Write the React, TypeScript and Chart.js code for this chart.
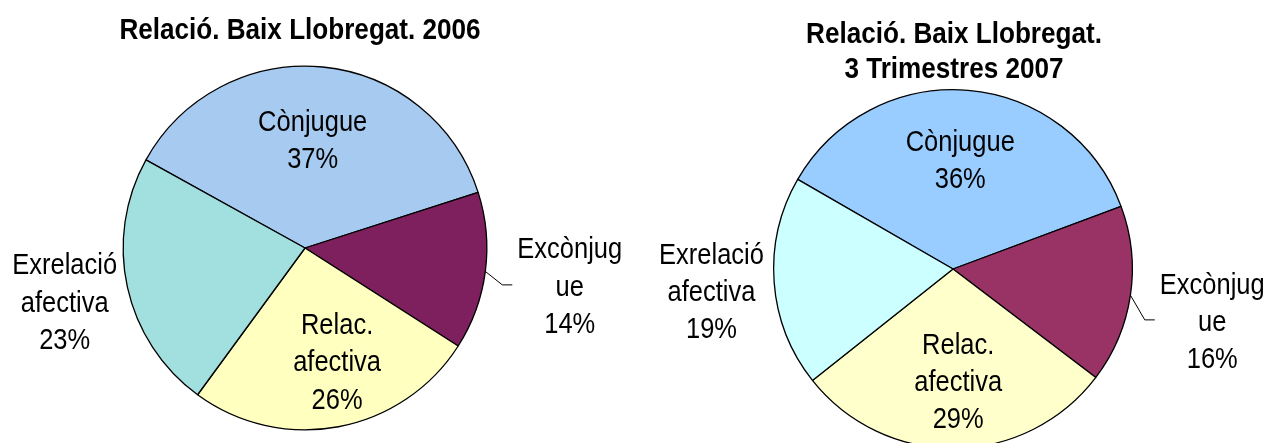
import React, { useEffect, useRef } from "react";
import { Chart, registerables } from "chart.js";

Chart.register(...registerables);

// ---- Data ----
const categories = ["Cònjugue", "Excònjugue", "Relac. afectiva", "Exrelació afectiva"];
const labelLines = [["Cònjugue"], ["Excònjug", "ue"], ["Relac.", "afectiva"], ["Exrelació", "afectiva"]];
const values2006 = [37, 14, 26, 23];
const values2007 = [36, 16, 29, 19];
const title2006 = ["Relació. Baix Llobregat. 2006"];
const title2007 = ["Relació. Baix Llobregat.", "3 Trimestres 2007"];
const colors2006 = ["#A6CAF0", "#7E1F5E", "#FFFFC0", "#A2DFDF"];
const colors2007 = ["#99CCFF", "#993366", "#FFFFCC", "#CCFFFF"];

const FONT_FAMILY = '"Liberation Sans", Arial, sans-serif';
const LABEL_SX = 0.85;
const TITLE_SX = 0.87;

type Lay = { k: number; dx: number; dy: number; leader?: boolean };

const layout2006: Lay[] = [
  { k: 0.603, dx: -3, dy: 0 },
  { k: 1.468, dx: 0, dy: 2.5, leader: true },
  { k: 0.63, dx: 11, dy: 0 },
  { k: 1.353, dx: 0, dy: 0 },
];
const layout2007: Lay[] = [
  { k: 0.617, dx: -2, dy: 0 },
  { k: 1.461, dx: 0, dy: 12.6, leader: true },
  { k: 0.622, dx: 4, dy: 0 },
  { k: 1.35, dx: 0, dy: 3 },
];

type Props = {
  values: number[];
  colors: string[];
  titleLines: string[];
  titleBaselines: number[];
  titleDx: number;
  rotation: number;
  padding: { left: number; right: number; top: number; bottom: number };
  width: number;
  height: number;
  lay: Lay[];
  lineHeight: number;
};

function drawScaled(ctx: CanvasRenderingContext2D, t: string, x: number, y: number, sx: number) {
  ctx.save();
  ctx.translate(x, y);
  ctx.scale(sx, 1);
  ctx.fillText(t, 0, 0);
  ctx.restore();
}

function PieChart(p: Props) {
  const ref = useRef<HTMLCanvasElement | null>(null);
  useEffect(() => {
    if (!ref.current) return;
    const fontSize = 30;
    const labelPlugin = {
      id: "pieLabels",
      afterDraw(chart: any) {
        const ctx: CanvasRenderingContext2D = chart.ctx;
        const meta = chart.getDatasetMeta(0);
        const arcs = meta.data as any[];
        const total = p.values.reduce((a, b) => a + b, 0);
        ctx.save();
        ctx.fillStyle = "#000";
        ctx.strokeStyle = "#000";
        ctx.textAlign = "center";
        ctx.textBaseline = "alphabetic";
        const capHalf = fontSize * 0.36;
        let cx0 = 0;
        arcs.forEach((arc, i) => {
          const { x, y, startAngle, endAngle, outerRadius } = arc.getProps(
            ["x", "y", "startAngle", "endAngle", "outerRadius"],
            true
          );
          cx0 = x;
          const mid = (startAngle + endAngle) / 2;
          const l = p.lay[i];
          const d = l.k * outerRadius;
          const lx = x + Math.cos(mid) * d + l.dx;
          const ly = y + Math.sin(mid) * d + l.dy;
          const pct = Math.round((p.values[i] / total) * 100) + "%";
          const lines = [...labelLines[i], pct];
          ctx.font = `${fontSize}px ${FONT_FAMILY}`;
          let w = 0;
          lines.forEach((t, j) => {
            w = Math.max(w, ctx.measureText(t).width * LABEL_SX);
            drawScaled(ctx, t, lx, ly + (j - (lines.length - 1) / 2) * p.lineHeight + capHalf, LABEL_SX);
          });
          if (l.leader) {
            const x0 = x + Math.cos(mid) * outerRadius;
            const y0 = y + Math.sin(mid) * outerRadius;
            const x2 = lx - w / 2 - 5;
            const x1 = x2 - 10;
            ctx.lineWidth = 1;
            ctx.beginPath();
            ctx.moveTo(x0, y0);
            ctx.lineTo(x1, ly);
            ctx.lineTo(x2, ly);
            ctx.stroke();
          }
        });
        // title
        ctx.font = `bold ${fontSize}px ${FONT_FAMILY}`;
        p.titleLines.forEach((t, j) => {
          drawScaled(ctx, t, cx0 + p.titleDx, p.titleBaselines[j], TITLE_SX);
        });
        ctx.restore();
      },
    };
    const chart = new Chart(ref.current, {
      type: "pie",
      data: {
        labels: categories,
        datasets: [
          {
            data: p.values,
            backgroundColor: p.colors,
            borderColor: "#000",
            borderWidth: 1.3,
            hoverOffset: 0,
          },
        ],
      },
      options: {
        responsive: false,
        maintainAspectRatio: false,
        animation: false,
        events: [],
        rotation: p.rotation,
        layout: { padding: p.padding },
        plugins: {
          legend: { display: false },
          tooltip: { enabled: false },
          title: { display: false },
        },
      },
      plugins: [labelPlugin],
    });
    return () => chart.destroy();
  }, []);
  return (
    <canvas
      ref={ref}
      width={p.width}
      height={p.height}
      style={{ display: "block", width: p.width, height: p.height }}
    />
  );
}

export default function App() {
  return (
    <div
      style={{
        position: "fixed",
        left: 0,
        top: 0,
        width: 1272,
        height: 443,
        overflow: "hidden",
        background: "#fff",
      }}
    >
      <div style={{ position: "absolute", left: 0, top: 0 }}>
        <PieChart
          values={values2006}
          colors={colors2006}
          titleLines={title2006}
          titleBaselines={[39]}
          titleDx={-5}
          rotation={299}
          padding={{ left: 122.5, right: 148.5, top: 65.5, bottom: 12.5 }}
          width={636}
          height={443}
          lay={layout2006}
          lineHeight={37.5}
        />
      </div>
      <div style={{ position: "absolute", left: 636, top: 0 }}>
        <PieChart
          values={values2007}
          colors={colors2007}
          titleLines={title2007}
          titleBaselines={[43, 78]}
          titleDx={1}
          rotation={300}
          padding={{ left: 137, right: 139, top: 89, bottom: 11 }}
          width={636}
          height={460}
          lay={layout2007}
          lineHeight={37}
        />
      </div>
    </div>
  );
}
